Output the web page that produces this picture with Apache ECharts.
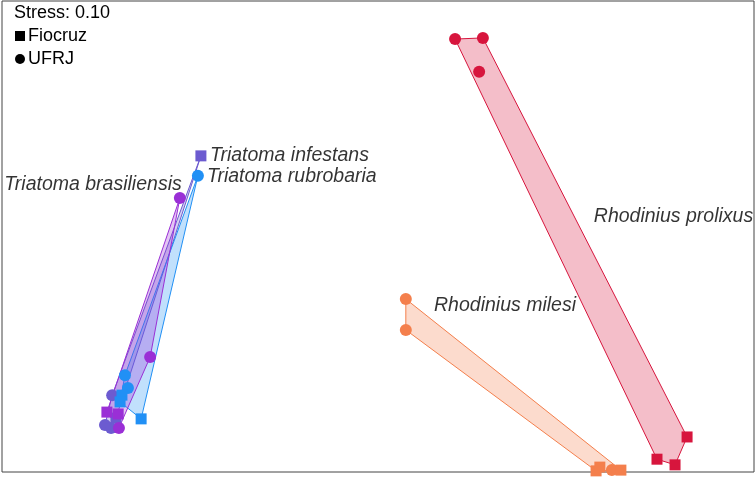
<!DOCTYPE html>
<html>
<head>
<meta charset="utf-8">
<script src="https://cdn.jsdelivr.net/npm/echarts@6/dist/echarts.min.js"></script>
<style>
  html, body { margin: 0; padding: 0; background: #fff; }
  #main { width: 756px; height: 477px; }
</style>
</head>
<body>
<div id="main"></div>
<script>
// NMDS coordinates, [x, y, source]  (F = Fiocruz square, U = UFRJ circle)
var prolixus = [[0.205, 0.649, 'U'], [0.279, 0.652, 'U'], [0.269, 0.562, 'U'],
                [0.822, -0.407, 'F'], [0.742, -0.466, 'F'], [0.790, -0.481, 'F']];
var milesi = [[0.074, -0.041, 'U'], [0.074, -0.123, 'U'], [0.580, -0.497, 'F'],
              [0.590, -0.487, 'F'], [0.622, -0.495, 'U'], [0.646, -0.495, 'F']];
var infestans = [[-0.471, 0.339, 'F'], [-0.707, -0.296, 'U'], [-0.726, -0.375, 'U'],
                 [-0.710, -0.383, 'U'], [-0.697, -0.357, 'F']];
var rubrobaria = [[-0.479, 0.286, 'U'], [-0.673, -0.243, 'U'], [-0.665, -0.277, 'U'],
                  [-0.681, -0.296, 'F'], [-0.686, -0.314, 'F'], [-0.630, -0.359, 'F']];
var brasiliensis = [[-0.527, 0.227, 'U'], [-0.606, -0.195, 'U'], [-0.721, -0.341, 'F'],
                    [-0.691, -0.346, 'F'], [-0.689, -0.383, 'U']];

var groupNames = ['Rhodinius prolixus', 'Rhodinius milesi', 'Triatoma infestans', 'Triatoma rubrobaria', 'Triatoma brasiliensis'];
var groupData = [prolixus, milesi, infestans, rubrobaria, brasiliensis];
var groupColors = ['#d7153d', '#f47f4c', '#6c5bd0', '#2190f5', '#9a2fd6'];

// where the species names sit, [x, y, align]
var labelPos = [[0.574, 0.179, 'left'], [0.149, -0.059, 'left'], [-0.447, 0.341, 'left'],
                [-0.455, 0.283, 'left'], [-0.522, 0.264, 'right']];
var stress = 'Stress: 0.10';

// convex hull (monotone chain)
function hull(pts) {
    var p = pts.map(function (d) { return [d[0], d[1]]; }).sort(function (a, b) { return a[0] - b[0] || a[1] - b[1]; });
    function cross(o, a, b) { return (a[0] - o[0]) * (b[1] - o[1]) - (a[1] - o[1]) * (b[0] - o[0]); }
    var lower = [], upper = [];
    p.forEach(function (q) {
        while (lower.length >= 2 && cross(lower[lower.length - 2], lower[lower.length - 1], q) <= 0) lower.pop();
        lower.push(q);
    });
    p.slice().reverse().forEach(function (q) {
        while (upper.length >= 2 && cross(upper[upper.length - 2], upper[upper.length - 1], q) <= 0) upper.pop();
        upper.push(q);
    });
    upper.pop(); lower.pop();
    return lower.concat(upper);
}

var series = [];
// hulls first
groupData.forEach(function (pts, i) {
    var h = hull(pts);
    series.push({
        type: 'custom',
        silent: true,
        data: [0],
        renderItem: function (params, api) {
            return {
                type: 'polygon',
                shape: { points: h.map(function (q) { return api.coord(q); }) },
                style: { fill: groupColors[i], opacity: 1, fillOpacity: 0.28, stroke: groupColors[i], lineWidth: 1 }
            };
        },
        z: 1
    });
});
// points
groupData.forEach(function (pts, i) {
    series.push({
        type: 'scatter',
        name: groupNames[i],
        data: pts.map(function (d) {
            return { value: [d[0], d[1]], symbol: d[2] === 'F' ? 'rect' : 'circle', symbolSize: d[2] === 'F' ? 11 : 12 };
        }),
        itemStyle: { color: groupColors[i], opacity: 1 },
        clip: false,
        z: 3
    });
});
// species labels
series.push({
    type: 'scatter',
    symbolSize: 0,
    silent: true,
    data: labelPos.map(function (l, i) {
        return {
            value: [l[0], l[1]],
            label: {
                show: true, formatter: groupNames[i], position: 'inside', align: l[2],
                color: '#000', textBorderWidth: 0, fontSize: 19.5, fontStyle: 'italic', fontFamily: 'Liberation Sans'
            }
        };
    }),
    z: 4
});

var chart = echarts.init(document.getElementById('main'));
chart.setOption({
    animation: false,
    backgroundColor: '#fff',
    grid: { left: 2, right: 2, top: 1, bottom: 5, show: true, borderColor: '#444', borderWidth: 1, backgroundColor: '#fff' },
    xAxis: { type: 'value', min: -1, max: 1, show: false },
    yAxis: { type: 'value', min: -0.5, max: 0.75, show: false },
    graphic: [
        { type: 'text', left: 14, top: 4, style: { text: stress, fontSize: 18, fontFamily: 'Liberation Sans', fill: '#000' } },
        { type: 'rect', left: 15, top: 31, shape: { width: 10, height: 10 }, style: { fill: '#000' } },
        { type: 'text', left: 28, top: 27, style: { text: 'Fiocruz', fontSize: 18, fontFamily: 'Liberation Sans', fill: '#000' } },
        { type: 'circle', left: 15, top: 54, shape: { r: 5 }, style: { fill: '#000' } },
        { type: 'text', left: 28, top: 50, style: { text: 'UFRJ', fontSize: 18, fontFamily: 'Liberation Sans', fill: '#000' } }
    ],
    series: series
});
</script>
</body>
</html>
